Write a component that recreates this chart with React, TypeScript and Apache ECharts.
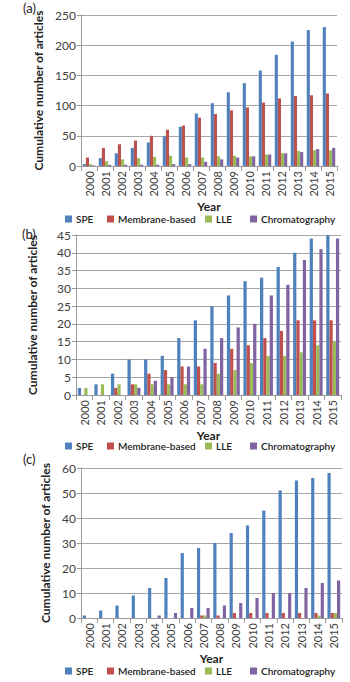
import React, { useEffect, useRef } from "react";
import * as echarts from "echarts";

const years = ["2000","2001","2002","2003","2004","2005","2006","2007","2008","2009","2010","2011","2012","2013","2014","2015"];
const seriesNames = ["SPE", "Membrane-based", "LLE", "Chromatography"];
const colors = ["#4F81BD", "#C0504D", "#9BBB59", "#8064A2"];

// Panel (a)
const aSPE = [3, 13, 21, 30, 39, 49, 65, 87, 104, 122, 137, 158, 184, 206, 225, 230];
const aMembrane = [14, 30, 36, 42, 50, 60, 67, 80, 86, 92, 97, 105, 112, 116, 117, 120];
const aLLE = [3, 8, 11, 13, 15, 17, 14, 14, 16, 17, 16, 19, 21, 25, 26, 26];
const aChrom = [1, 2, 2, 2, 2, 3, 3, 7, 11, 14, 16, 19, 21, 23, 28, 30];

// Panel (b)
const bSPE = [2, 3, 6, 10, 10, 11, 16, 21, 25, 28, 32, 33, 36, 40, 44, 45];
const bMembrane = [0, 0, 2, 3, 6, 7, 8, 8, 9, 13, 14, 16, 18, 21, 21, 21];
const bLLE = [2, 3, 3, 3, 3, 3, 3, 3, 6, 7, 9, 11, 11, 12, 14, 15];
const bChrom = [0, 0, 0, 2, 4, 5, 8, 13, 16, 19, 20, 28, 31, 38, 41, 44];

// Panel (c)
const cSPE = [1, 3, 5, 9, 12, 16, 26, 28, 30, 34, 37, 43, 51, 55, 56, 58];
const cMembrane = [0, 0, 0, 0, 0, 0, 0, 1, 1, 2, 2, 2, 2, 2, 2, 2];
const cLLE = [0, 0, 0, 0, 0, 0, 0, 1, 0, 0, 0, 0, 0, 0, 1, 2];
const cChrom = [0, 0, 0, 0, 1, 2, 4, 4, 5, 6, 8, 10, 10, 12, 14, 15];

const panelData = [
  [aSPE, aMembrane, aLLE, aChrom],
  [bSPE, bMembrane, bLLE, bChrom],
  [cSPE, cMembrane, cLLE, cChrom],
];
const yMax = [250, 45, 60];
const yInterval = [50, 5, 10];
const panelLabels = ["(a)", "(b)", "(c)"];

const FONT = "Lato, 'Open Sans', sans-serif";
const TXT = "#404040";

export default function App() {
  const ref = useRef<HTMLDivElement>(null);
  useEffect(() => {
    if (!ref.current) return;
    const chart = echarts.init(ref.current, null, { renderer: "svg" });
    const grids = [
      { left: 81, right: 13, top: 15, height: 151 },
      { left: 76, right: 9, top: 235, height: 160 },
      { left: 81, right: 8, top: 468, height: 150 },
    ];
    const yNameGap = [34, 38, 28];
    const legendTops = [214, 441, 666];
    const legendLefts = [65, 107, 205, 250];
    const labelPos = [[23, 1], [22, 227], [23, 452]];

    const xAxis = grids.map((_, i) => ({
      type: "category",
      gridIndex: i,
      data: years,
      name: "Year",
      nameLocation: "middle",
      nameGap: 34,
      nameTextStyle: { fontFamily: FONT, fontWeight: "bold", fontSize: 12, color: "#222" },
      axisLine: { lineStyle: { color: "#999", width: 1 } },
      axisTick: { show: true, length: 5, lineStyle: { color: "#999" } },
      axisLabel: { rotate: 90, fontFamily: FONT, fontSize: 11, color: TXT, margin: 5 },
    }));
    const yAxis = grids.map((_, i) => ({
      type: "value",
      gridIndex: i,
      min: 0,
      max: yMax[i],
      interval: yInterval[i],
      name: "Cumulative number of articles",
      nameLocation: "middle",
      nameRotate: 90,
      nameGap: yNameGap[i],
      nameTextStyle: { fontFamily: FONT, fontWeight: "bold", fontSize: 12, color: "#222" },
      axisLine: { show: true, lineStyle: { color: "#999" } },
      axisTick: { show: true, length: 4, lineStyle: { color: "#999" } },
      axisLabel: { fontFamily: FONT, fontSize: 12, color: TXT, margin: 5 },
      splitLine: { lineStyle: { color: "#A6A6A6", width: 1 } },
    }));
    const series: any[] = [];
    panelData.forEach((arrs, p) => {
      arrs.forEach((vals, k) => {
        series.push({
          type: "bar",
          name: seriesNames[k],
          xAxisIndex: p,
          yAxisIndex: p,
          data: vals,
          barGap: "0%",
          barCategoryGap: "22%",
          itemStyle: { color: colors[k] },
        });
      });
    });
    const legend: any[] = [];
    legendTops.forEach((t) => {
      seriesNames.forEach((n, k) => {
        legend.push({
          top: t,
          left: legendLefts[k],
          padding: 0,
          itemWidth: 7,
          itemHeight: 7,
          icon: "rect",
          data: [n],
          textStyle: { fontFamily: FONT, fontWeight: 600, fontSize: 10, color: "#222", padding: [0, 0, 0, -1] },
        });
      });
    });
    const graphic = panelLabels.map((s, i) => ({
      type: "text",
      left: labelPos[i][0],
      top: labelPos[i][1],
      style: { text: s, font: `13px ${FONT}`, fill: "#222" },
    }));
    chart.setOption({
      animation: false,
      backgroundColor: "#fff",
      grid: grids,
      xAxis,
      yAxis,
      series,
      legend,
      graphic,
    });
    return () => chart.dispose();
  }, []);
  return (
    <div
      ref={ref}
      style={{ position: "absolute", left: 0, top: 0, width: 350, height: 682, background: "#fff" }}
    />
  );
}
